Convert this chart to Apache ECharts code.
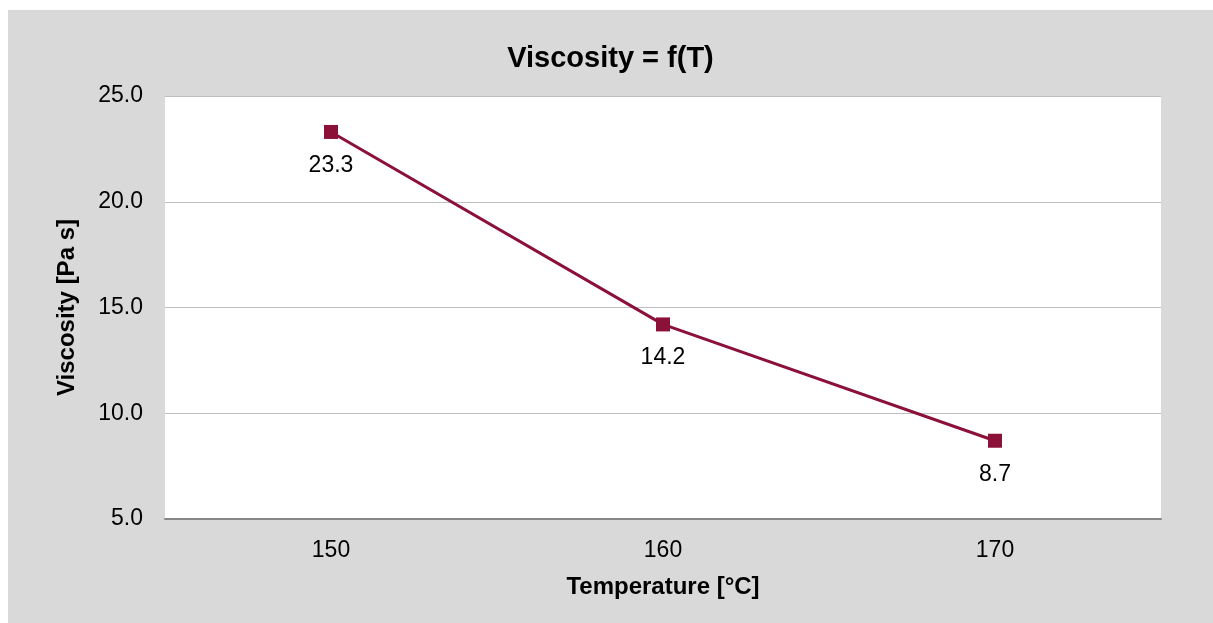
<!DOCTYPE html>
<html>
<head>
<meta charset="utf-8">
<script src="https://cdn.jsdelivr.net/npm/echarts@6/dist/echarts.min.js"></script>
<style>
  html, body { margin: 0; padding: 0; background: #fff; }
  #chart { position: absolute; left: 8px; top: 10px; width: 1205px; height: 613px; }
</style>
</head>
<body>
<div id="chart"></div>
<script>
// Viscosity vs temperature
var temperatures = ['150', '160', '170'];
var viscosity = [23.3, 14.2, 8.7];
var yTicks = { min: 5, max: 25, interval: 5 };

var chart = echarts.init(document.getElementById('chart'), null, { renderer: 'canvas' });
var font = 'Arial, "Liberation Sans", sans-serif';

chart.setOption({
  backgroundColor: '#d9d9d9',
  animation: false,
  title: {
    text: 'Viscosity = f(T)',
    left: 'center',
    top: 29,
    textStyle: { fontFamily: font, fontSize: 29, fontWeight: 'bold', color: '#000' }
  },
  grid: { left: 157, top: 86, width: 996, height: 423, show: true, backgroundColor: '#fff', borderWidth: 0 },
  xAxis: {
    type: 'category',
    data: temperatures,
    boundaryGap: true,
    name: 'Temperature [°C]',
    nameLocation: 'middle',
    nameGap: 56,
    nameTextStyle: { fontFamily: font, fontSize: 24, fontWeight: 'bold', color: '#000' },
    axisLine: { lineStyle: { color: '#868686', width: 2 } },
    axisTick: { alignWithLabel: false, length: 7, lineStyle: { color: '#868686', width: 2 } },
    axisLabel: { fontFamily: font, fontSize: 23, color: '#000', margin: 20 },
    splitLine: { show: false }
  },
  yAxis: {
    type: 'value',
    min: yTicks.min,
    max: yTicks.max,
    interval: yTicks.interval,
    name: 'Viscosity [Pa s]',
    nameLocation: 'middle',
    nameGap: 86,
    nameTextStyle: { fontFamily: font, fontSize: 24, fontWeight: 'bold', color: '#000' },
    axisLine: { show: false },
    axisTick: { show: false },
    axisLabel: {
      fontFamily: font, fontSize: 23, color: '#000', margin: 22,
      formatter: function (v) { return v.toFixed(1); }
    },
    splitLine: { lineStyle: { color: '#bfbfbf', width: 1 } }
  },
  series: [{
    type: 'line',
    data: viscosity,
    symbol: 'rect',
    symbolSize: 14,
    lineStyle: { color: '#8c1139', width: 3 },
    itemStyle: { color: '#8c1139' },
    label: {
      show: true,
      position: 'bottom',
      distance: 15,
      fontFamily: font,
      fontSize: 23,
      color: '#000',
      formatter: function (p) { return p.value.toFixed(1); }
    }
  }]
});
</script>
</body>
</html>
